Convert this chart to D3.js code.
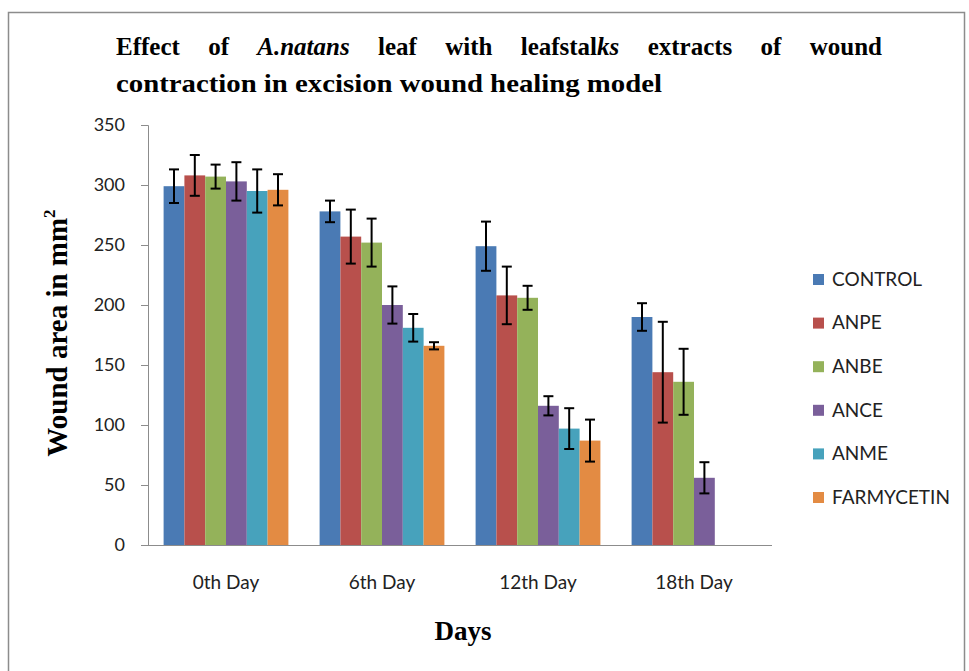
<!DOCTYPE html>
<html>
<head>
<meta charset="utf-8">
<script src="https://cdn.jsdelivr.net/npm/d3@7"></script>
<style>
  body { margin: 0; background: #fff; }
  svg { display: block; }
</style>
</head>
<body>
<svg id="chart"></svg>
<script>
// data
var days = ["0th Day", "6th Day", "12th Day", "18th Day"];
var groups = ["CONTROL", "ANPE", "ANBE", "ANCE", "ANME", "FARMYCETIN"];
var colors = ["#4A7AB4", "#B8504C", "#94B25A", "#7A5F9A", "#47A2BC", "#E38B43"];

var control    = [299, 278, 249, 190];
var anpe       = [308, 257, 208, 144];
var anbe       = [307, 252, 206, 136];
var ance       = [303, 200, 116, 56];
var anme       = [295, 181, 97, null];
var farmycetin = [296, 166, 87, null];

var controlErr    = [14, 9, 20.5, 11.5];
var anpeErr       = [17, 22.5, 24, 42];
var anbeErr       = [10, 20, 10, 27.5];
var anceErr       = [16, 15.5, 8, 13];
var anmeErr       = [18, 11.5, 17, null];
var farmycetinErr = [13, 3, 17.5, null];

var yTicks = [0, 50, 100, 150, 200, 250, 300, 350];

var series = [control, anpe, anbe, ance, anme, farmycetin];
var errors = [controlErr, anpeErr, anbeErr, anceErr, anmeErr, farmycetinErr];

var width = 969, height = 671;
var svg = d3.select("#chart").attr("width", width).attr("height", height);

// outer frame
svg.append("rect")
  .attr("x", 8.5).attr("y", 12.5)
  .attr("width", 956).attr("height", 670)
  .attr("fill", "#fff").attr("stroke", "#8c8c8c").attr("stroke-width", 1.5);

var plot = {left: 148, right: 772, top: 125, bottom: 545};

var x = d3.scaleBand().domain(days).range([plot.left, plot.right]);
var bandStep = x.bandwidth();
// excel style: gap width 150% of one bar
var x1 = d3.scaleBand().domain(groups)
  .range([bandStep * 0.75 / 7.5, bandStep - bandStep * 0.75 / 7.5]);
var y = d3.scaleLinear().domain([0, 350]).range([plot.bottom, plot.top]);

// bars
var rows = [];
series.forEach(function(s, i) {
  s.forEach(function(v, j) {
    if (v != null) rows.push({group: groups[i], gi: i, day: days[j], value: v, err: errors[i][j]});
  });
});

var g = svg.append("g");
g.selectAll("rect.bar")
  .data(rows)
  .enter().append("rect")
    .attr("class", "bar")
    .attr("x", d => x(d.day) + x1(d.group))
    .attr("width", x1.bandwidth())
    .attr("y", d => y(d.value))
    .attr("height", d => y(0) - y(d.value))
    .attr("fill", d => colors[d.gi]);

// error bars
var eb = g.selectAll("g.err").data(rows).enter().append("g")
  .attr("transform", d => "translate(" + (x(d.day) + x1(d.group) + x1.bandwidth() / 2) + ",0)")
  .attr("stroke", "#000").attr("stroke-width", 2);
eb.append("line").attr("x1", 0).attr("x2", 0)
  .attr("y1", d => y(d.value + d.err)).attr("y2", d => y(d.value - d.err));
eb.append("line").attr("x1", -5).attr("x2", 5)
  .attr("y1", d => y(d.value + d.err)).attr("y2", d => y(d.value + d.err));
eb.append("line").attr("x1", -5).attr("x2", 5)
  .attr("y1", d => y(d.value - d.err)).attr("y2", d => y(d.value - d.err));

// y axis
var yAxis = svg.append("g")
  .attr("transform", "translate(" + plot.left + ",0)")
  .call(d3.axisLeft(y).tickValues(yTicks).tickSize(7).tickPadding(16));
yAxis.select(".domain").attr("stroke", "#8c8c8c");
yAxis.selectAll(".tick line").attr("stroke", "#8c8c8c");
yAxis.selectAll(".tick text")
  .attr("font-family", "Lato, sans-serif").attr("font-size", 18).attr("fill", "#222");

// x axis
var xAxis = svg.append("g")
  .attr("transform", "translate(0," + plot.bottom + ")")
  .call(d3.axisBottom(x).tickSize(0).tickPadding(31));
xAxis.select(".domain").attr("stroke", "#8c8c8c").attr("d", "M" + (plot.left - 7) + ",0.5H" + plot.right);
xAxis.selectAll(".tick text")
  .attr("font-family", "Lato, sans-serif").attr("font-size", 19).attr("fill", "#222");

// legend
var legend = svg.append("g").attr("transform", "translate(813,279)");
var li = legend.selectAll("g").data(groups).enter().append("g")
  .attr("transform", (d, i) => "translate(0," + (i * 43.6) + ")");
li.append("rect").attr("x", 0).attr("y", -5).attr("width", 11).attr("height", 11)
  .attr("fill", (d, i) => colors[i]);
li.append("text").attr("x", 19).attr("y", 0).attr("dy", "0.36em")
  .attr("font-family", "Lato, sans-serif").attr("font-size", 19).attr("fill", "#222")
  .text(d => d);

// title, line 1 justified word by word
var serif = "'Liberation Serif', 'Times New Roman', serif";
var line1 = [["Effect"], ["of"], ["A.natans", true], ["leaf"], ["with"], ["leafstal", false, "ks"], ["extracts"], ["of"], ["wound"]];
var t1 = svg.append("g").attr("font-family", serif).attr("font-weight", "bold").attr("font-size", 25).attr("fill", "#000");
var words = line1.map(function(w) {
  var t = t1.append("text").attr("y", 55);
  t.append("tspan").attr("font-style", w[1] ? "italic" : "normal").text(w[0]);
  if (w[2]) t.append("tspan").attr("font-style", "italic").text(w[2]);
  return t;
});
var widths = words.map(t => t.node().getComputedTextLength());
var lineStart = 116, lineEnd = 882;
var gap = (lineEnd - lineStart - d3.sum(widths)) / (words.length - 1);
var cx = lineStart;
words.forEach(function(t, i) { t.attr("x", cx); cx += widths[i] + gap; });

svg.append("text")
  .attr("x", 116).attr("y", 92)
  .attr("font-family", serif).attr("font-weight", "bold").attr("font-size", 25)
  .attr("textLength", 546).attr("lengthAdjust", "spacingAndGlyphs")
  .text("contraction in excision wound healing model");

// axis titles
var yt = svg.append("text")
  .attr("transform", "translate(67,333) rotate(-90)")
  .attr("text-anchor", "middle")
  .attr("font-family", serif).attr("font-weight", "bold").attr("font-size", 29);
yt.append("tspan").text("Wound area in mm");
yt.append("tspan").attr("font-size", 17).attr("dy", -12).text("2");

svg.append("text")
  .attr("x", 463).attr("y", 640)
  .attr("text-anchor", "middle")
  .attr("font-family", serif).attr("font-weight", "bold").attr("font-size", 27)
  .text("Days");
</script>
</body>
</html>
